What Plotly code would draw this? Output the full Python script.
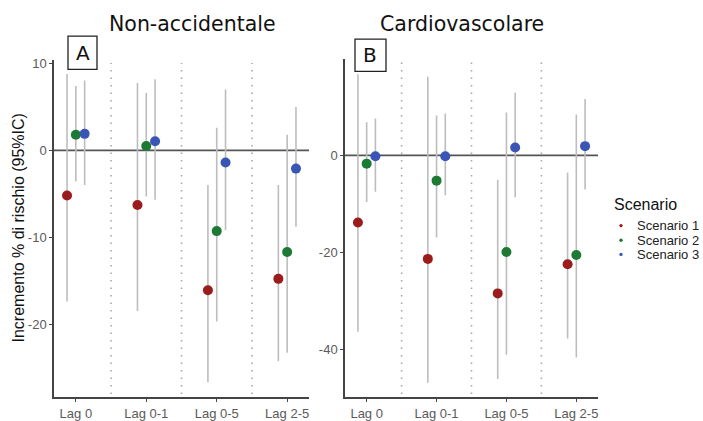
import plotly.graph_objects as go

lags = ["Lag 0", "Lag 0-1", "Lag 0-5", "Lag 2-5"]
scenarios = ["Scenario 1", "Scenario 2", "Scenario 3"]
colors = ["#9b1c1c", "#1d7a35", "#3a55b5"]

# Panel A: Non-accidentale  (estimate, lower, upper) per scenario
a_est = [[-5.2, -6.3, -16.1, -14.8],
         [1.8, 0.5, -9.3, -11.7],
         [1.9, 1.05, -1.4, -2.1]]
a_low = [[-17.4, -18.5, -26.7, -24.3],
         [-3.6, -5.3, -19.7, -23.3],
         [-4.0, -5.7, -9.2, -8.8]]
a_up = [[8.8, 7.75, -4.0, -4.0],
        [7.4, 6.6, 2.6, 1.8],
        [8.05, 8.2, 7.0, 5.0]]

# Panel B: Cardiovascolare
b_est = [[-13.8, -21.3, -28.4, -22.4],
         [-1.7, -5.2, -19.9, -20.5],
         [-0.2, -0.2, 1.6, 1.9]]
b_low = [[-36.3, -46.8, -46.0, -37.7],
         [-9.6, -16.9, -41.0, -41.6],
         [-7.5, -8.2, -8.6, -7.0]]
b_up = [[16.7, 16.2, -5.0, -3.5],
        [6.8, 8.2, 8.8, 8.4],
        [7.6, 8.6, 12.9, 11.6]]

a_ticks = [10, 0, -10, -20]
b_ticks = [0, -20, -40]

W, H = 703, 421
offsets = [-0.125, 0.0, 0.125]
pos = [1, 2, 3, 4]

fig = go.Figure()

def add_panel(est, low, up, xa, ya):
    for s in range(3):
        xs = [p + offsets[s] for p in pos]
        fig.add_trace(go.Scatter(
            x=xs, y=est[s], mode="markers", xaxis=xa, yaxis=ya, name=scenarios[s],
            marker=dict(color=colors[s], size=10, line=dict(width=0)),
            error_y=dict(type="data", symmetric=False,
                         array=[u - e for u, e in zip(up[s], est[s])],
                         arrayminus=[e - l for e, l in zip(est[s], low[s])],
                         color="#bdbdbd", thickness=1.6, width=0),
            showlegend=False, hoverinfo="skip"))

add_panel(a_est, a_low, a_up, "x", "y")
add_panel(b_est, b_low, b_up, "x2", "y2")

shapes = []
for xa, ya in (("x", "y"), ("x2", "y2")):
    for d in (1.5, 2.5, 3.5):
        shapes.append(dict(type="line", xref=xa, yref=ya + " domain", x0=d, x1=d, y0=0.01, y1=0.99,
                           line=dict(color="#a8a8a8", width=1.6, dash="1.5px,6px"), layer="below"))
    shapes.append(dict(type="line", xref=xa + " domain", yref=ya, x0=0, x1=1, y0=0, y1=0,
                       line=dict(color="#555555", width=1.6), layer="below"))

# boxed panel letters
for (x0, x1, y0, y1) in ((68, 97, 34, 68), (355, 386, 37, 70)):
    shapes.append(dict(type="rect", xref="paper", yref="paper",
                       x0=x0 / W, x1=x1 / W, y0=1 - y1 / H, y1=1 - y0 / H,
                       line=dict(color="#222222", width=1.3), fillcolor="white"))

def a(text, x, y, size, family, angle=0, anchor="center", color="#111111"):
    return dict(text=text, x=x / W, y=1 - y / H, xref="paper", yref="paper",
                xanchor=anchor, yanchor="middle", textangle=angle, showarrow=False,
                font=dict(family=family, size=size, color=color))

ann = [
    a("Non-accidentale", 193, 22, 20.5, "DejaVu Sans"),
    a("Cardiovascolare", 462, 22, 20.5, "DejaVu Sans"),
    a("A", 82.5, 51, 20, "DejaVu Sans"),
    a("B", 370.5, 53.5, 20, "DejaVu Sans"),
    a("Incremento % di rischio (95%IC)", 19, 231, 16, "Liberation Sans", -90),
    a("Scenario", 612, 206, 16, "Liberation Sans", anchor="left"),
]

# custom compact legend
leg_y = [228, 243, 257.5]
for s in range(3):
    ann.append(dict(text=scenarios[s], x=636 / W, y=1 - leg_y[s] / H, xref="paper", yref="paper",
                    xanchor="left", yanchor="middle", showarrow=False, height=13, borderpad=0,
                    font=dict(family="Liberation Sans", size=13, color="#222222")))
    shapes.append(dict(type="circle", xref="paper", yref="paper",
                       x0=619.3 / W, x1=622.7 / W, y0=1 - (leg_y[s] + 1.7) / H, y1=1 - (leg_y[s] - 1.7) / H,
                       fillcolor=colors[s], line=dict(width=0)))

axis_common = dict(showline=True, linecolor="#444444", linewidth=1.5, showgrid=False,
                   zeroline=False, ticks="outside", ticklen=3, tickcolor="#444444",
                   tickfont=dict(family="Liberation Sans", size=13, color="#5a5a5a"))

fig.update_layout(
    width=W, height=H, margin=dict(l=0, r=0, t=0, b=0),
    paper_bgcolor="white", plot_bgcolor="white", showlegend=False,
    xaxis=dict(domain=[54 / W, 309 / W], range=[0.69, 4.31], tickvals=pos, ticktext=lags,
               anchor="y", **axis_common),
    yaxis=dict(domain=[1 - 404 / H, 1 - 58 / H], range=[-28.45, 10.45],
               tickvals=a_ticks, ticktext=[str(t) for t in a_ticks], anchor="x", **axis_common),
    xaxis2=dict(domain=[345 / W, 598 / W], range=[0.69, 4.31], tickvals=pos, ticktext=lags,
                anchor="y2", **axis_common),
    yaxis2=dict(domain=[1 - 404 / H, 1 - 57 / H], range=[-49.8, 19.9],
                tickvals=b_ticks, ticktext=[str(t) for t in b_ticks], anchor="x2", **axis_common),
    shapes=shapes, annotations=ann,
)

fig.write_html("out.html")
